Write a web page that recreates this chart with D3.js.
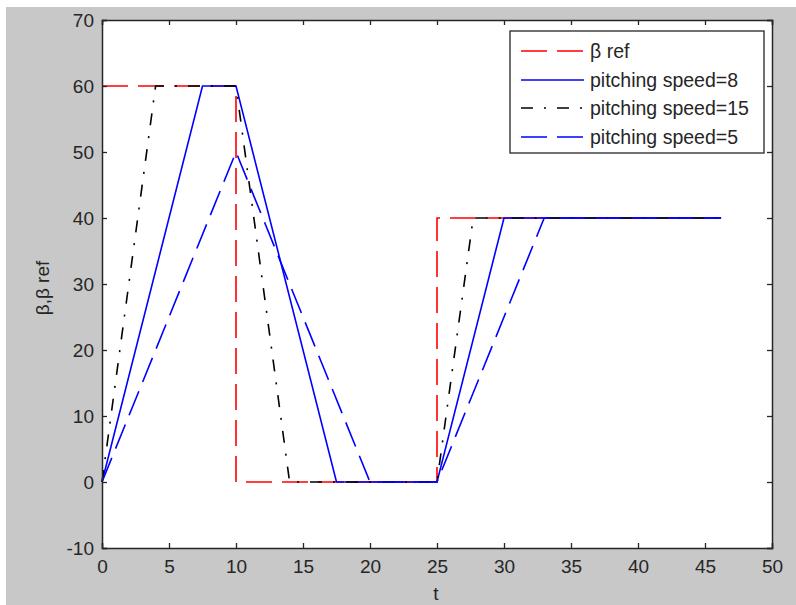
<!DOCTYPE html>
<html><head><meta charset="utf-8">
<script src="https://cdn.jsdelivr.net/npm/d3@7"></script>
<style>body{margin:0;background:#fff}svg{display:block}text{font-family:Arial,"Liberation Sans",sans-serif}</style>
</head><body><svg id="c" width="796" height="605"></svg>
<script>
// Data
const xTicks = [0,5,10,15,20,25,30,35,40,45,50];
const yTicks = [-10,0,10,20,30,40,50,60,70];
const betaRefT = [0,10,10,25,25,46.2];
const betaRefV = [60,60,0,0,40,40];
const speed8T = [0,7.5,10,17.5,25,30,46.2];
const speed8V = [0,60,60,0,0,40,40];
const speed15T = [0,4,10,14,25,27.7,46.2];
const speed15V = [0,60,60,0,0,40,40];
const speed5T = [0,10,20,25,33,46.2];
const speed5V = [0,50,0,0,40,40];
const seriesNames = ["β ref","pitching speed=8","pitching speed=15","pitching speed=5"];
const seriesColors = ["#ff0000","#0000ff","#000000","#0000ff"];
const seriesDash = ["26,10","none","12,11,2,11","26,10"];

const svg = d3.select("#c");
svg.append("rect").attr("x",6).attr("y",7).attr("width",790).attr("height",598).attr("fill","#c8c8c8");
const L=102,R=772,T=20,B=548;
svg.append("rect").attr("x",L).attr("y",T).attr("width",R-L).attr("height",B-T).attr("fill","#fff");
const x = d3.scaleLinear().domain([0,50]).range([L,R]);
const y = d3.scaleLinear().domain([-10,70]).range([B,T]);
const tc = "#262626";
const series = [[betaRefT,betaRefV],[speed8T,speed8V],[speed15T,speed15V],[speed5T,speed5V]];
const line = d3.line().x(d=>x(d[0])).y(d=>y(d[1]));
const plot = svg.append("g");
series.forEach((s,i)=>{
  const pts = s[0].map((t,k)=>[t,s[1][k]]);
  plot.append("path").attr("d",line(pts)).attr("fill","none")
    .attr("stroke",seriesColors[i]).attr("stroke-width",1.6)
    .attr("stroke-dasharray",seriesDash[i]);
});
const fmt = d=>String(d);
// axes
const ax = svg.append("g").attr("transform",`translate(0,${B})`).call(d3.axisBottom(x).tickValues(xTicks).tickSize(-5).tickPadding(12).tickFormat(fmt));
const axT = svg.append("g").attr("transform",`translate(0,${T})`).call(d3.axisTop(x).tickValues(xTicks).tickSize(-5).tickFormat(""));
const ay = svg.append("g").attr("transform",`translate(${L},0)`).call(d3.axisLeft(y).tickValues(yTicks).tickSize(-5).tickPadding(8).tickFormat(fmt));
const ayR = svg.append("g").attr("transform",`translate(${R},0)`).call(d3.axisRight(y).tickValues(yTicks).tickSize(-5).tickFormat(""));
[ax,axT,ay,ayR].forEach(g=>{
  g.select(".domain").attr("stroke",tc).attr("stroke-width",1.5);
  g.selectAll(".tick line").attr("stroke",tc).attr("stroke-width",1.3);
  g.selectAll("text").attr("fill",tc).attr("font-size",19).attr("font-family","Arial, Liberation Sans, sans-serif");
});
svg.append("text").attr("x",436).attr("y",600).attr("text-anchor","middle").attr("font-size",19).attr("fill",tc).text("t");
svg.append("text").attr("transform","translate(49,288) rotate(-90)").attr("text-anchor","middle").attr("font-size",19).attr("fill",tc).text("β,β ref");
// legend
const lg = svg.append("g");
lg.append("rect").attr("x",510).attr("y",31).attr("width",254).attr("height",122).attr("fill","#fff").attr("stroke",tc).attr("stroke-width",1.3);
const rowY = [51,80,108,137];
seriesNames.forEach((n,i)=>{
  lg.append("line").attr("x1",521).attr("x2",584).attr("y1",rowY[i]).attr("y2",rowY[i])
    .attr("stroke",seriesColors[i]).attr("stroke-width",1.6).attr("stroke-dasharray",seriesDash[i]);
  lg.append("text").attr("x",590).attr("y",rowY[i]+7).attr("font-size",19.5).attr("fill",tc).text(n);
});
</script></body></html>
